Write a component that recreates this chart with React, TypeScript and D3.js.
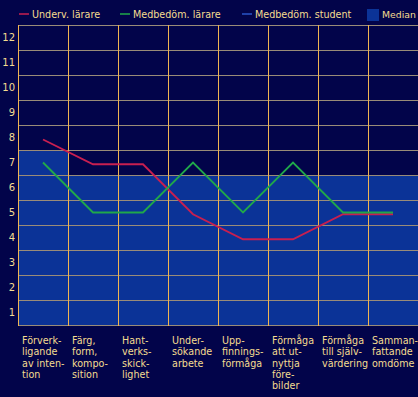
import React from "react";
import * as d3 from "d3";

const categories: string[][] = [
  ["Förverk-", "ligande", "av inten-", "tion"],
  ["Färg,", "form,", "kompo-", "sition"],
  ["Hant-", "verks-", "skick-", "lighet"],
  ["Under-", "sökande", "arbete"],
  ["Upp-", "finnings-", "förmåga"],
  ["Förmåga", "att ut-", "nyttja", "före-", "bilder"],
  ["Förmåga", "till själv-", "värdering"],
  ["Samman-", "fattande", "omdöme"],
];
const undervLarare = [7.92, 6.93, 6.93, 4.93, 3.93, 3.93, 4.93, 4.93];
const medbedomLarare = [7, 5, 5, 7, 5, 7, 5, 5];
const median = [7, 6, 6, 6, 6, 6, 6, 6];
const yTicks = [1, 2, 3, 4, 5, 6, 7, 8, 9, 10, 11, 12];
const legendItems = ["Underv. lärare", "Medbedöm. lärare", "Medbedöm. student", "Median"];

const W = 418;
const H = 397;
const BG = "#02044a";
const FILL = "#0b3397";
const TEXT = "#f5dc90";
const HGRID = "#9a8c78";
const VGRID = "#f0b452";
const RED = "#c81f50";
const GREEN = "#20a84a";
const BLUE = "#2a55c8";

export default function App() {
  const x = d3
    .scaleBand<number>()
    .domain(d3.range(categories.length))
    .range([18, 418])
    .paddingInner(0)
    .paddingOuter(0);
  const y = d3.scaleLinear().domain([0.5, 12.5]).range([325, 25]);
  const cx = (i: number) => (x(i) as number) + x.bandwidth() / 2;

  const line = d3
    .line<number>()
    .x((_, i) => cx(i))
    .y((d) => y(d));

  const hLines = d3.range(0.5, 12.6, 1);
  const vLines = d3.range(categories.length + 1).map((i) => 18 + i * x.bandwidth());

  const font = "'DejaVu Sans', Verdana, sans-serif";
  const legendX = [19, 120, 242, 367];
  const legendColors = [RED, GREEN, BLUE];

  return (
    <svg
      width={W}
      height={H}
      style={{ position: "absolute", left: 0, top: 0, display: "block" }}
      fontFamily={font}
    >
      <rect x={0} y={0} width={W} height={H} fill={BG} />
      {median.map((m, i) => (
        <rect
          key={"m" + i}
          x={x(i)}
          y={y(m + 0.5)}
          width={x.bandwidth()}
          height={y(0.5) - y(m + 0.5)}
          fill={FILL}
        />
      ))}
      {hLines.map((v) => (
        <line
          key={"h" + v}
          x1={18}
          x2={418}
          y1={y(v) + 0.5}
          y2={y(v) + 0.5}
          stroke={HGRID}
          strokeWidth={1}
          shapeRendering="crispEdges"
        />
      ))}
      {vLines.map((vx, i) => (
        <line
          key={"v" + i}
          x1={vx + 0.5}
          x2={vx + 0.5}
          y1={25}
          y2={326}
          stroke={VGRID}
          strokeWidth={1}
          shapeRendering="crispEdges"
        />
      ))}
      <path d={line(undervLarare) || ""} fill="none" stroke={RED} strokeWidth={1.9} />
      <path d={line(medbedomLarare) || ""} fill="none" stroke={GREEN} strokeWidth={1.9} />
      {yTicks.map((t) => (
        <text
          key={"t" + t}
          x={15}
          y={y(t)}
          dy="0.36em"
          textAnchor="end"
          fontSize={10}
          fill={TEXT}
        >
          {t}
        </text>
      ))}
      {categories.map((lines, i) => (
        <text key={"c" + i} x={(x(i) as number) + 4} y={344} fontSize={9.6} fill={TEXT}>
          {lines.map((l, j) => (
            <tspan key={j} x={(x(i) as number) + 4} y={344 + j * 11.3}>
              {l}
            </tspan>
          ))}
        </text>
      ))}
      {legendItems.map((name, i) => (
        <g key={"l" + i}>
          {i < 3 ? (
            <line
              x1={legendX[i]}
              x2={legendX[i] + 10}
              y1={14}
              y2={14}
              stroke={legendColors[i]}
              strokeWidth={1.5}
            />
          ) : (
            <rect x={legendX[i]} y={9} width={12} height={12} fill={FILL} />
          )}
          <text
            x={i < 3 ? legendX[i] + 13 : legendX[i] + 15}
            y={18}
            fontSize={i < 3 ? 9.6 : 9.3}
            fill={TEXT}
          >
            {name}
          </text>
        </g>
      ))}
    </svg>
  );
}
